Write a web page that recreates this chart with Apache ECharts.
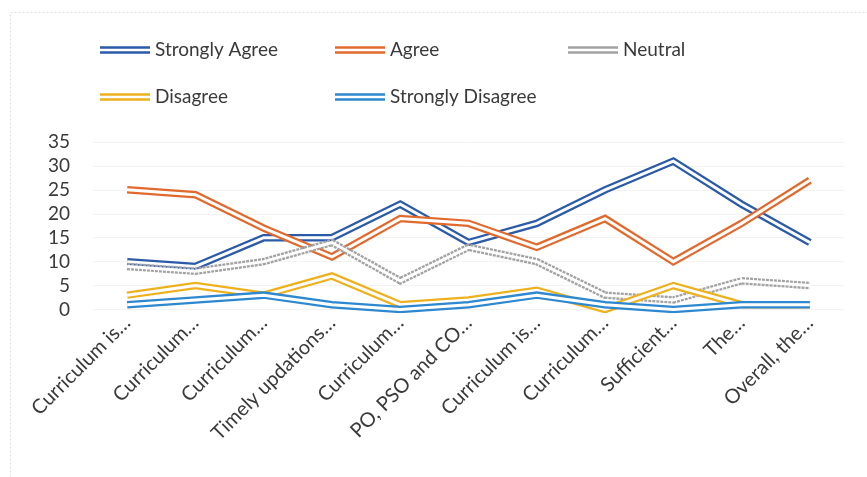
<!DOCTYPE html>
<html>
<head>
<meta charset="utf-8">
<script src="https://cdn.jsdelivr.net/npm/echarts@6/dist/echarts.min.js"></script>
<style>
  html, body { margin: 0; padding: 0; background: #ffffff; }
  #chart { width: 867px; height: 477px; }
</style>
</head>
<body>
<div id="chart"></div>
<script>
// Survey statements (truncated as on the axis)
const categories = [
  'Curriculum is…', 'Curriculum…', 'Curriculum…', 'Timely updations…',
  'Curriculum…', 'PO, PSO and CO…', 'Curriculum is…', 'Curriculum…',
  'Sufficient…', 'The…', 'Overall, the…'
];

// Response counts per statement
const stronglyAgree    = [10, 9, 15, 15, 22, 14, 18, 25, 31, 22, 14];
const agree            = [25, 24, 17, 11, 19, 18, 13, 19, 10, 18, 27];
const neutral          = [9, 8, 10, 14, 6, 13, 10, 3, 2, 6, 5];
const disagree         = [3, 5, 3, 7, 1, 2, 4, 0, 5, 1, 1];
const stronglyDisagree = [1, 2, 3, 1, 0, 1, 3, 1, 0, 1, 1];

const yTicks = { min: 0, max: 35, interval: 5 };

const seriesDefs = [
  { name: 'Strongly Agree',    data: stronglyAgree,    color: '#2a5aa8' },
  { name: 'Agree',             data: agree,            color: '#e2692c' },
  { name: 'Neutral',           data: neutral,          color: '#a2a2a2', dotted: true },
  { name: 'Disagree',          data: disagree,         color: '#eeb11e' },
  { name: 'Strongly Disagree', data: stronglyDisagree, color: '#2e88cf' }
];

const FONT = 'Lato';
const TEXT = '#3a3a3a';
const OUTER_W = 7.5;   // full width of the double stroke
const INNER_W = 3;     // white gap between the two strokes

// Each series is a double line: a wide coloured stroke with a thin white stroke on top
const series = [];
seriesDefs.forEach(s => {
  series.push({
    name: s.name,
    type: 'line',
    data: s.data,
    symbol: 'none',
    color: s.color,
    lineStyle: { width: OUTER_W, color: s.color, join: 'miter', type: s.dotted ? [3, 1] : 'solid' },
    emphasis: { disabled: true },
    animation: false
  });
  series.push({
    name: s.name + ' (gap)',
    type: 'line',
    data: s.data,
    symbol: 'none',
    lineStyle: { width: INNER_W, color: '#ffffff', join: 'miter' },
    emphasis: { disabled: true },
    silent: true,
    animation: false
  });
});

// Double-line legend marker
const doubleIcon = 'path://M0,0H50V2.4H0Z M0,5.1H50V7.5H0Z';

const legendPos = [
  { name: 'Strongly Agree',    left: 100, top: 40 },
  { name: 'Agree',             left: 335, top: 40 },
  { name: 'Neutral',           left: 568, top: 40 },
  { name: 'Disagree',          left: 100, top: 87 },
  { name: 'Strongly Disagree', left: 335, top: 87 }
];

const legends = legendPos.map(p => ({
  data: [p.name],
  left: p.left,
  top: p.top,
  padding: 0,
  itemWidth: 50,
  itemHeight: 8,
  icon: doubleIcon,
  selectedMode: false,
  textStyle: { fontFamily: FONT, fontSize: 19, color: TEXT, lineHeight: 20 }
}));

const chart = echarts.init(document.getElementById('chart'), null, { renderer: 'canvas' });
chart.setOption({
  backgroundColor: '#ffffff',
  animation: false,
  legend: legends,
  grid: { left: 93, right: 23, top: 142, bottom: 167.5, containLabel: false },
  xAxis: {
    type: 'category',
    data: categories,
    boundaryGap: true,
    axisLine: { show: false },
    axisTick: { show: false },
    splitLine: { show: false },
    axisLabel: {
      interval: 0,
      rotate: 45,
      margin: 10,
      fontFamily: FONT,
      fontSize: 20,
      color: TEXT
    }
  },
  yAxis: {
    type: 'value',
    min: yTicks.min,
    max: yTicks.max,
    interval: yTicks.interval,
    axisLine: { show: false },
    axisTick: { show: false },
    splitLine: { show: true, lineStyle: { color: '#f3f3f3', width: 1 } },
    axisLabel: {
      margin: 23,
      fontFamily: FONT,
      fontSize: 19,
      color: TEXT
    }
  },
  graphic: [{
    type: 'rect',
    silent: true,
    shape: { x: 10.5, y: 12.5, width: 870, height: 470 },
    style: { fill: 'none', stroke: '#dedede', lineWidth: 1, lineDash: [2, 2] }
  }],
  series: series
});
</script>
</body>
</html>
